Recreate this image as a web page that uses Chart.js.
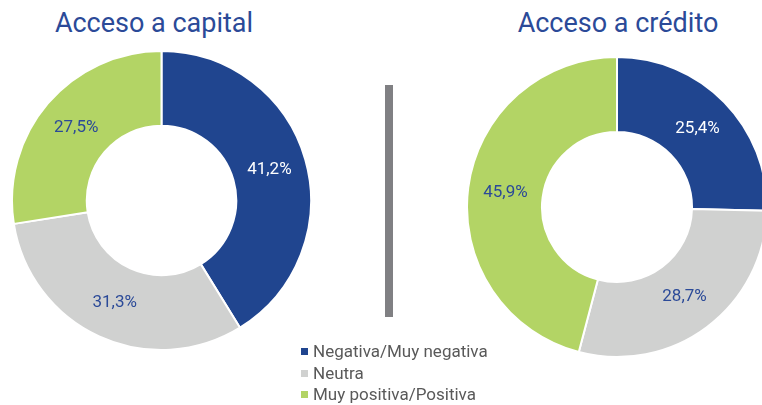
<!DOCTYPE html>
<html>
<head>
<meta charset="utf-8">
<script src="https://cdn.jsdelivr.net/npm/chart.js@4"></script>
<style>
  html, body { margin: 0; padding: 0; width: 762px; height: 405px; overflow: hidden; background: #fff; }
  body { position: relative; font-family: Roboto, "Open Sans", sans-serif; }
  .title { position: absolute; top: 10px; width: 260px; text-align: center; font-size: 27px; line-height: 27px; color: #2B4A98; white-space: nowrap; }
  .box { position: absolute; }
  .divider { position: absolute; left: 385px; top: 85px; width: 8px; height: 232px; background: #808083; }
  #legend { position: absolute; left: 300px; top: 341px; font-size: 17px; line-height: 21.5px; color: #595959; }
  #legend .row { display: flex; align-items: center; white-space: nowrap; }
  #legend .sw { width: 7px; height: 7px; margin-right: 5px; margin-left: 1px; }
</style>
</head>
<body>
<div class="title" style="left:24px">Acceso a capital</div>
<div class="title" style="left:488px">Acceso a crédito</div>
<div class="box" style="left:11px; top:50px; width:301px; height:301px"><canvas id="capital"></canvas></div>
<div class="box" style="left:466px; top:56px; width:302px; height:302px"><canvas id="credito"></canvas></div>
<div class="divider"></div>
<div id="legend"></div>
<script>
const categories = ['Negativa/Muy negativa', 'Neutra', 'Muy positiva/Positiva'];
const capitalValues = [41.2, 31.3, 27.5];
const creditoValues = [25.4, 28.7, 45.9];
const sliceColors = ['#20458F', '#D0D1D0', '#B3D465'];
const labelColors = ['#FFFFFF', '#2B4A98', '#2B4A98'];

// Writes each slice's percentage at the middle of its ring segment
const sliceLabels = {
  id: 'sliceLabels',
  afterDatasetsDraw(chart) {
    const ctx = chart.ctx;
    const meta = chart.getDatasetMeta(0);
    const values = chart.data.datasets[0].data;
    ctx.save();
    ctx.font = '17px Roboto, sans-serif';
    ctx.textAlign = 'center';
    ctx.textBaseline = 'middle';
    meta.data.forEach((arc, i) => {
      const p = arc.tooltipPosition();
      ctx.fillStyle = labelColors[i];
      ctx.fillText(values[i].toFixed(1).replace('.', ',') + '%', p.x, p.y);
    });
    ctx.restore();
  }
};

function makeDoughnut(id, values) {
  return new Chart(document.getElementById(id), {
    type: 'doughnut',
    data: {
      labels: categories,
      datasets: [{
        data: values,
        backgroundColor: sliceColors,
        borderColor: '#FFFFFF',
        borderWidth: 2,
        hoverOffset: 0
      }]
    },
    options: {
      responsive: true,
      maintainAspectRatio: false,
      animation: false,
      cutout: '50%',
      layout: { padding: 0 },
      plugins: { legend: { display: false }, tooltip: { enabled: false } }
    },
    plugins: [sliceLabels]
  });
}

makeDoughnut('capital', capitalValues);
makeDoughnut('credito', creditoValues);

// Shared legend for both rings
const legend = document.getElementById('legend');
categories.forEach((name, i) => {
  const row = document.createElement('div');
  row.className = 'row';
  const sw = document.createElement('span');
  sw.className = 'sw';
  sw.style.background = sliceColors[i];
  const tx = document.createElement('span');
  tx.textContent = name;
  row.appendChild(sw);
  row.appendChild(tx);
  legend.appendChild(row);
});
</script>
</body>
</html>
